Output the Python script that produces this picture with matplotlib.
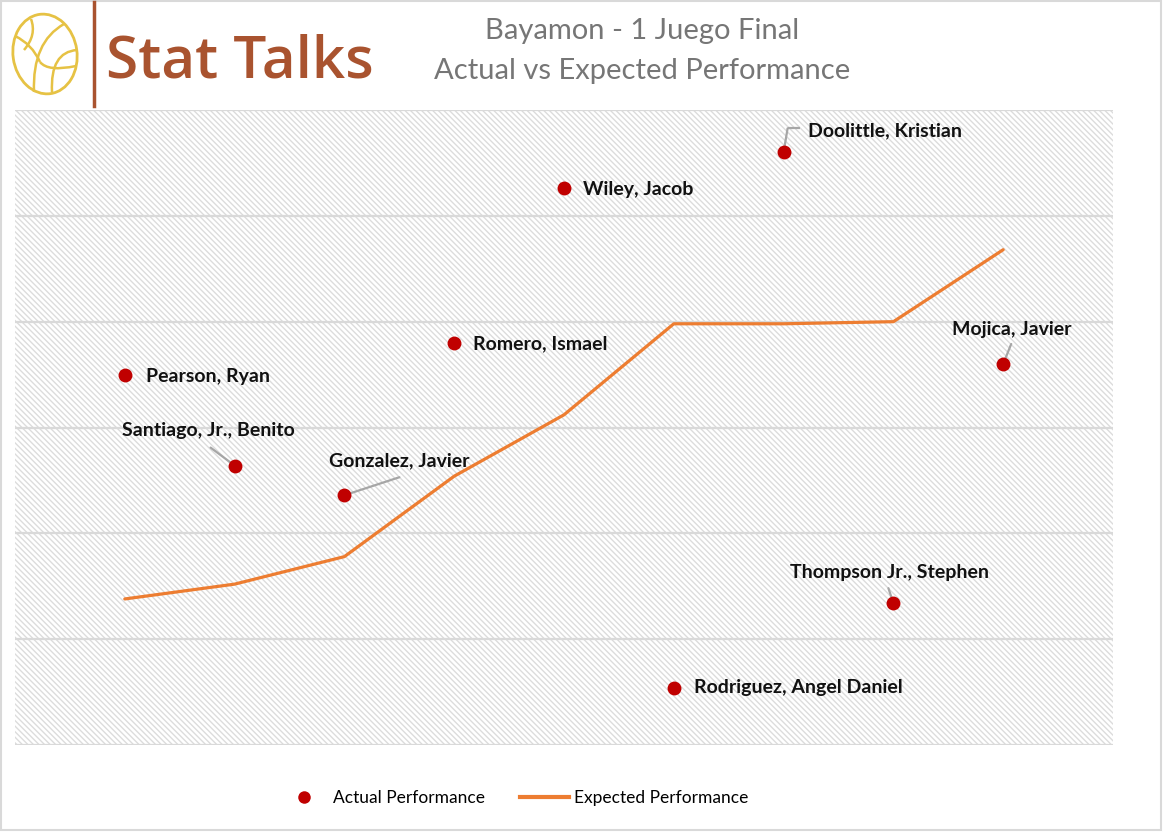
"""
Bayamon - 1 Juego Final: actual vs expected performance
"""

import matplotlib
matplotlib.use('Agg')
import matplotlib.pyplot as plt
from matplotlib.lines import Line2D
from matplotlib.patches import Ellipse, PathPatch, Rectangle
from matplotlib.path import Path

# datos
players = ['Pearson, Ryan', 'Santiago, Jr., Benito', 'Gonzalez, Javier', 'Romero, Ismael',
           'Wiley, Jacob', 'Rodriguez, Angel Daniel', 'Doolittle, Kristian',
           'Thompson Jr., Stephen', 'Mojica, Javier']
x_pos = [1, 2, 3, 4, 5, 6, 7, 8, 9]
actual = [17.5, 13.2, 11.8, 19.0, 26.3, 2.7, 28.0, 6.7, 18.0]
expected = [6.9, 7.6, 8.9, 12.7, 15.6, 19.9, 19.9, 20.0, 23.4]

RED = '#c00000'
ORANGE = '#ed7d31'
GRID = '#d9d9d9'
HATCH = '#dcdcdc'
LEADER = '#a6a6a6'
BROWN = '#a9532f'
GOLD = '#e6c244'

plt.rcParams['font.family'] = ['Lato', 'DejaVu Sans']
plt.rcParams['hatch.linewidth'] = 1.0

W, H = 1163, 832
fig = plt.figure(figsize=(W / 100, H / 100), dpi=100)
fig.patch.set_facecolor('white')

# area del grafico
ax = fig.add_axes([15 / W, 1 - 745 / H, 1098 / W, 635 / H])
ax.patch.set_facecolor('white')
ax.patch.set_edgecolor(HATCH)
ax.patch.set_hatch('\\' * 6)
ax.patch.set_linewidth(0)
ax.set_xlim(0, 10)
ax.set_ylim(0, 30)
ax.set_yticks(range(0, 31, 5))
ax.set_xticks([])
ax.tick_params(left=False, labelleft=False)
ax.grid(axis='y', color=GRID, linewidth=1.6)
ax.set_axisbelow(True)
for s in ax.spines.values():
    s.set_visible(False)

ax.plot(x_pos, expected, color=ORANGE, linewidth=2.3, zorder=3, solid_capstyle='round')
ax.scatter(x_pos, actual, s=100, color=RED, zorder=4, linewidths=0)

# etiquetas (desplazamiento en pixeles)
label_off = [(21, -2), (-26, 35), (55, 34), (19, -1), (19, -1), (20, 0), (24, 22), (-4, 31), (9, 35)]
label_ha = ['left', 'center', 'center', 'left', 'left', 'left', 'left', 'center', 'center']
leader_end = {1: (-24, 18), 2: (55, 18), 6: (4, 24), 7: (-5, 15), 8: (8, 20)}

for i, name in enumerate(players):
    ax.annotate(name, xy=(x_pos[i], actual[i]), xytext=label_off[i], textcoords='offset pixels',
                ha=label_ha[i], va='center', fontsize=14, fontweight='bold', color='#111111', zorder=5)
    if i in leader_end:
        ax.annotate('', xy=(x_pos[i], actual[i]), xytext=leader_end[i], textcoords='offset pixels',
                    arrowprops=dict(arrowstyle='-', color=LEADER, lw=1.6, shrinkA=0, shrinkB=0),
                    zorder=3.5)

# overlay en pixeles para logo, marco y codo de Doolittle
ov = fig.add_axes([0, 0, 1, 1], zorder=10)
ov.set_xlim(0, W)
ov.set_ylim(H, 0)
ov.axis('off')
ov.patch.set_alpha(0)

# segmento horizontal del codo (Doolittle)
p = ax.transData.transform((x_pos[6], actual[6]))
px, py = p[0], H - p[1]
ov.plot([px + 4, px + 16], [py - 24, py - 24], color=LEADER, lw=1.6, solid_capstyle='butt')

ov.add_patch(Rectangle((1, 1), W - 3, H - 3, fill=False, edgecolor=GRID, lw=1.5))

# logo
ov.add_patch(Ellipse((45, 54), 64, 80, angle=-8, fill=False, edgecolor=GOLD, lw=2))
curves = [
    [(15, 36), (32, 44), (40, 62)],
    [(64, 24), (32, 42), (34, 92)],
    [(77, 50), (50, 52), (52, 92)],
    [(31, 19), (37, 35), (24, 50)],
    [(40, 62), (48, 72), (76, 66)],
]
for c in curves:
    ov.add_patch(PathPatch(Path(c, [Path.MOVETO, Path.CURVE3, Path.CURVE3]),
                           fill=False, edgecolor=GOLD, lw=1.8))
ov.plot([93.5, 93.5], [2, 106], color=BROWN, lw=2.5)
ov.text(106, 78, 'Stat Talks', fontsize=42, color=BROWN, ha='left', va='baseline',
        family=['Open Sans', 'DejaVu Sans'], fontweight='semibold')

# titulo
ov.text(642, 31, 'Bayamon - 1 Juego Final', fontsize=21, color='#767676', ha='center', va='center')
ov.text(642, 71, 'Actual vs Expected Performance', fontsize=21, color='#767676', ha='center', va='center')

# leyenda
handles = [Line2D([], [], marker='o', linestyle='none', markersize=9, color=RED, markeredgewidth=0),
           Line2D([], [], color=ORANGE, linewidth=3)]
fig.legend(handles, ['Actual Performance', 'Expected Performance'], loc='center',
           bbox_to_anchor=(514 / W, 1 - 798 / H), ncol=2, frameon=False, fontsize=12.5,
           handlelength=2.8, handletextpad=0.3, columnspacing=2.0)

fig.savefig('out.png', dpi=100)
